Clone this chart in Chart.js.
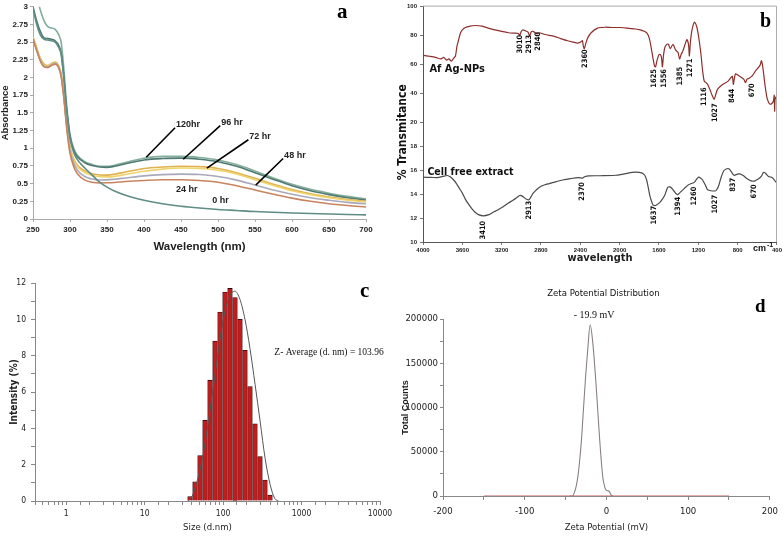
<!DOCTYPE html>
<html>
<head>
<meta charset="utf-8">
<script src="https://cdn.jsdelivr.net/npm/chart.js@4.4.0/dist/chart.umd.min.js"></script>
<style>
  body { margin: 0; background: #fff; width: 784px; height: 536px; position: relative; overflow: hidden; }
  canvas { position: absolute; }
</style>
</head>
<body>
<canvas id="panel-a" width="390" height="262" style="left:0;top:0"></canvas>
<canvas id="panel-b" width="394" height="268" style="left:390px;top:0"></canvas>
<canvas id="panel-c" width="400" height="271" style="left:0;top:265px"></canvas>
<canvas id="panel-d" width="384" height="271" style="left:400px;top:265px"></canvas>
<script>
// ---- a: UV-vis absorbance ----
var uvWl  = [250,255,260,265,270,275,280,285,288,290,292,294,296,300,305,310,320,330,340,350,360,375,400,425,450,475,500,525,550,575,600,625,650,675,700];
var uv120 = [3.35,3.15,2.95,2.8,2.72,2.7,2.68,2.6,2.5,2.32,2.08,1.8,1.55,1.2,1.0,0.9,0.81,0.77,0.745,0.745,0.76,0.8,0.86,0.885,0.885,0.87,0.835,0.77,0.68,0.58,0.49,0.42,0.365,0.32,0.285];
var uv96  = [3.0,2.8,2.65,2.56,2.55,2.54,2.52,2.45,2.35,2.18,1.98,1.72,1.5,1.17,0.97,0.88,0.795,0.755,0.735,0.73,0.745,0.78,0.835,0.855,0.86,0.845,0.81,0.745,0.655,0.56,0.47,0.4,0.345,0.3,0.268];
var uv72  = [2.58,2.42,2.27,2.19,2.17,2.2,2.22,2.16,2.05,1.9,1.72,1.5,1.3,1.02,0.85,0.76,0.68,0.64,0.622,0.62,0.632,0.665,0.715,0.735,0.745,0.74,0.715,0.655,0.575,0.49,0.415,0.355,0.31,0.275,0.25];
var uv72b = [2.56,2.4,2.25,2.17,2.16,2.19,2.21,2.15,2.04,1.89,1.71,1.49,1.29,1.0,0.83,0.74,0.655,0.615,0.597,0.595,0.603,0.63,0.675,0.705,0.72,0.715,0.69,0.635,0.555,0.475,0.4,0.345,0.3,0.265,0.24];
var uv48  = [2.55,2.39,2.24,2.16,2.15,2.18,2.2,2.14,2.03,1.88,1.7,1.47,1.27,0.97,0.79,0.69,0.6,0.565,0.552,0.553,0.562,0.58,0.61,0.628,0.635,0.63,0.6,0.55,0.48,0.41,0.35,0.3,0.265,0.235,0.215];
var uv24  = [2.54,2.38,2.23,2.15,2.14,2.17,2.19,2.13,2.02,1.86,1.68,1.45,1.24,0.93,0.74,0.64,0.55,0.52,0.51,0.512,0.517,0.53,0.545,0.555,0.555,0.545,0.52,0.47,0.41,0.35,0.295,0.25,0.215,0.19,0.17];
var uv0   = [2.98,2.75,2.6,2.54,2.53,2.52,2.5,2.42,2.33,2.16,1.96,1.7,1.48,1.14,0.94,0.84,0.72,0.62,0.52,0.45,0.395,0.335,0.265,0.215,0.18,0.155,0.135,0.12,0.105,0.095,0.085,0.078,0.07,0.063,0.058];
var uvTags = ['120hr', '96 hr', '72 hr', '48 hr', '24 hr', '0 hr'];

// ---- b: FTIR ----
var npWn = [4000,3930,3873,3820,3790,3760,3738,3710,3688,3670,3655,3640,3620,3600,3570,3520,3470,3400,3336,3270,3200,3130,3067,3030,3017,3000,2983,2950,2932,2915,2900,2882,2860,2840,2820,2760,2665,2600,2530,2470,2430,2400,2380,2370,2360,2345,2326,2290,2225,2150,2080,1990,1900,1840,1790,1750,1722,1700,1680,1660,1645,1635,1620,1600,1585,1575,1565,1555,1540,1520,1505,1485,1458,1430,1407,1391,1375,1357,1335,1317,1300,1291,1280,1264,1240,1220,1206,1190,1173,1155,1140,1120,1106,1080,1060,1039,1025,1005,960,900,870,854,844,835,821,780,737,720,705,687,650,620,590,570,559,548,535,520,502,485,469,450,436,428,424,420,410];
var npT  = [66.5,65.8,65.1,64.0,65.0,63.2,64.0,62.5,64.5,66.0,72.6,76.5,81.7,84.0,85.6,86.6,87.0,86.5,85.2,84.0,82.9,82.0,81.7,81.5,80.0,83.0,84.0,83.0,82.5,79.8,82.5,83.0,82.0,81.2,82.0,80.8,79.5,78.0,76.5,75.5,74.9,75.5,76.5,73.0,71.0,74.5,78.3,82.0,85.2,85.8,85.6,85.6,85.0,84.6,84.0,83.0,81.7,78.5,72.0,64.0,59.0,58.5,63.0,67.0,67.0,65.0,58.5,66.0,72.0,74.0,74.2,71.0,74.0,70.0,68.5,64.0,67.0,69.5,74.0,77.2,74.0,66.0,76.0,84.0,89.3,87.0,83.0,76.0,67.0,55.0,48.7,47.5,46.5,42.5,39.0,36.2,39.0,43.0,46.0,48.5,51.0,52.0,46.5,50.0,53.7,52.0,49.9,47.6,50.0,50.5,52.5,55.6,58.0,60.0,62.8,60.0,53.3,45.0,37.3,34.0,32.8,33.5,35.0,39.0,28.0,36.0,38.0];
var cfeWn = [4000,3920,3853,3800,3753,3720,3688,3660,3638,3600,3570,3535,3504,3470,3437,3386,3330,3286,3235,3185,3135,3085,3050,3017,2991,2951,2924,2900,2883,2850,2816,2760,2716,2650,2582,2500,2414,2380,2350,2313,2200,2045,1950,1844,1777,1745,1726,1710,1693,1675,1660,1640,1626,1593,1565,1543,1525,1509,1490,1476,1450,1425,1409,1380,1342,1300,1275,1241,1215,1197,1175,1157,1130,1107,1073,1023,1005,990,965,939,910,889,860,838,800,771,740,704,670,637,610,587,560,536,515,486,460,436,409];
var cfeT  = [15.44,15.42,15.4,15.5,15.58,15.45,15.2,14.9,14.6,14.1,13.6,13.15,12.8,12.5,12.3,12.2,12.3,12.5,12.7,12.95,13.25,13.5,13.7,13.9,13.85,13.6,13.55,13.8,14.05,14.35,14.6,14.8,14.9,15.05,15.2,15.32,15.4,15.35,15.5,15.55,15.56,15.6,15.72,15.86,15.8,15.6,15.2,14.6,13.9,13.4,13.1,13.05,13.1,13.3,13.6,13.9,14.3,14.6,14.62,14.55,14.3,14.05,13.97,14.2,14.5,14.8,14.9,15.0,15.3,15.44,15.35,15.2,14.8,14.4,14.3,14.3,14.5,14.8,15.5,16.0,16.15,16.14,15.85,15.6,15.7,15.7,15.55,15.3,15.15,15.1,15.2,15.3,15.5,15.85,15.75,15.5,15.45,15.3,15.0];
var npPeaks   = ['3010','2913','2840','2360','1625','1556','1385','1271','1116','1027','844','670'];
var npPeakWn  = [3017,2917,2833,2357,1649,1552,1391,1281,1140,1032,854,653];
var cfePeaks  = ['3410','2913','2370','1637','1394','1260','1027','837','670'];
var cfePeakWn = [3386,2924,2380,1653,1407,1240,1032,844,630];

// ---- c: DLS size distribution ----
var dlsSize = [37.84,43.82,50.75,58.77,68.06,78.82,91.28,105.7,122.4,141.8,164.2,190.1,220.2,255.0,295.3,342.0,396.1];
var dlsInt  = [0.24,1.06,2.5,4.45,6.65,8.8,10.4,11.5,11.7,11.2,10.0,8.3,6.3,4.25,2.45,1.15,0.33];
var fitSize = [35.5,41,47.7,55,64,78,90.6,105,122,141,164,190,220,256,296,343,398,454,511];
var fitInt  = [0,0.33,1.25,2.45,4.2,6.8,8.8,10.4,11.3,11.55,11.1,10.0,8.4,6.4,4.4,2.35,0.9,0.15,0];

// ---- d: zeta potential ----
var zetaMv     = [-45,-41.6,-39,-36.7,-34.5,-32.7,-30.5,-28.7,-25.5,-22.6,-19.9,-16.6,-12.5,-8.5,-4.5,-2,-0.4,1.5,3.6,5.7,8];
var zetaCounts = [0,0,4500,12400,25000,40700,64000,89600,134800,168700,193500,172500,123500,67000,21800,10000,6800,6000,4900,1100,0];
var zetaBaseMv = [-150, 150];
var zetaBase   = [0, 0];

var SANS = "'Liberation Sans', Arial, sans-serif";
var NARROW = "'Liberation Sans Narrow', 'DejaVu Sans Condensed', sans-serif";
var SERIF = "'Liberation Serif', 'DejaVu Serif', serif";
Chart.defaults.font.family = SANS;
Chart.defaults.color = '#222';
Chart.defaults.animation = false;
Chart.defaults.responsive = false;
Chart.defaults.plugins.legend.display = false;
Chart.defaults.plugins.tooltip.enabled = false;

function pairs(xs, ys) { return xs.map(function(x, i) { return { x: x, y: ys[i] }; }); }
function fixW(w) { return function(s) { s.width = w; }; }
function fixH(h) { return function(s) { s.height = h; }; }
function text(ctx, s, x, y, font, opts) {
    opts = opts || {};
    ctx.save();
    ctx.translate(x, y);
    if (opts.rot) ctx.rotate(opts.rot);
    ctx.font = font;
    ctx.fillStyle = opts.color || '#111';
    ctx.textAlign = opts.align || 'left';
    ctx.textBaseline = opts.base || 'alphabetic';
    ctx.fillText(s, 0, 0);
    ctx.restore();
}

// ---------- panel a ----------
var uvLines = [
    { data: uv0,   color: '#5f8d85' },
    { data: uv24,  color: '#c8845e' },
    { data: uv48,  color: '#a9a9bb' },
    { data: uv72b, color: '#eed46c' },
    { data: uv72,  color: '#e0b14e' },
    { data: uv96,  color: '#4f7a72' },
    { data: uv120, color: '#85ad9c' }
];
// tag anchors (nm, absorbance) and leader line ends
var uvTagAt = [[442, 1.29], [503, 1.32], [541, 1.12], [588, 0.855], [442, 0.373], [491, 0.211]];
var uvLeadTo = [[403, 0.873], [453, 0.845], [485, 0.718], [551, 0.479]];

new Chart(document.getElementById('panel-a'), {
    type: 'line',
    data: {
        datasets: uvLines.map(function(l) {
            return { data: pairs(uvWl, l.data), borderColor: l.color, borderWidth: 1.6,
                     pointRadius: 0, cubicInterpolationMode: 'monotone' };
        })
    },
    options: {
        layout: { padding: { top: 6, right: 24, left: 0, bottom: 0 } },
        scales: {
            x: {
                type: 'linear', min: 250, max: 700, afterFit: fixH(43),
                ticks: { stepSize: 50, maxRotation: 0, padding: 3, font: { family: SANS, size: 8, weight: 'bold' } },
                grid: { drawOnChartArea: false, tickLength: 3, color: '#aaa' },
                border: { color: '#aaa' },
                title: { display: true, text: 'Wavelength (nm)', padding: { top: 0, bottom: 8 },
                         font: { family: SANS, size: 11.5, weight: 'bold' } }
            },
            y: {
                min: 0, max: 3, afterFit: fixW(33),
                ticks: { stepSize: 0.25, padding: 2, font: { family: SANS, size: 8, weight: 'bold' },
                         callback: function(v) { return String(v); } },
                grid: { drawOnChartArea: false, tickLength: 3, color: '#aaa' },
                border: { color: '#aaa' },
                title: { display: true, text: 'Absorbance', padding: { top: 0, bottom: 0 },
                         font: { family: SANS, size: 9.5, weight: 'bold' } }
            }
        }
    },
    plugins: [{
        id: 'uvTags',
        afterDatasetsDraw: function(chart) {
            var ctx = chart.ctx, sx = chart.scales.x, sy = chart.scales.y;
            ctx.save();
            ctx.strokeStyle = '#000';
            ctx.lineWidth = 1.6;
            uvLeadTo.forEach(function(end, i) {
                ctx.beginPath();
                ctx.moveTo(sx.getPixelForValue(uvTagAt[i][0]), sy.getPixelForValue(uvTagAt[i][1]));
                ctx.lineTo(sx.getPixelForValue(end[0]), sy.getPixelForValue(end[1]));
                ctx.stroke();
            });
            ctx.restore();
            uvTags.forEach(function(t, i) {
                text(ctx, t, sx.getPixelForValue(uvTagAt[i][0]) + 1, sy.getPixelForValue(uvTagAt[i][1]) - 1,
                     'bold 9px ' + SANS, { color: '#222' });
            });
            text(ctx, 'a', 337, 18, 'bold 21px ' + SERIF, { color: '#000' });
        }
    }]
});

// ---------- panel b ----------
var npLabelMid  = [74.2, 74.2, 76.1, 64.2, 50.6, 50.6, 52.1, 57.8, 38.0, 27.0, 38.5, 42.4];
var cfeLabelMid = [11.0, 12.67, 14.25, 12.25, 13.0, 13.86, 13.17, 14.8, 14.25];
var tickFontB = { family: SANS, size: 6, weight: 'bold' };

new Chart(document.getElementById('panel-b'), {
    type: 'line',
    data: {
        datasets: [
            { data: pairs(npWn, npT), yAxisID: 'yTop', borderColor: '#8e2e2b', borderWidth: 1.2, pointRadius: 0, tension: 0.25 },
            { data: pairs(cfeWn, cfeT), yAxisID: 'yBot', borderColor: '#4a4a4a', borderWidth: 1.2, pointRadius: 0, tension: 0.3 }
        ]
    },
    options: {
        layout: { padding: { top: 5, right: 3, left: 0, bottom: 0 } },
        scales: {
            x: {
                type: 'linear', min: 400, max: 4000, reverse: true, afterFit: fixH(26),
                ticks: { stepSize: 400, maxRotation: 0, padding: 2, font: tickFontB,
                         callback: function(v) { return String(v); } },
                grid: { drawOnChartArea: false, tickLength: 3, color: '#777' },
                border: { color: '#555' },
                title: { display: true, text: 'wavelength', padding: { top: 0, bottom: 3.5 },
                         font: { family: NARROW, size: 11, weight: 'bold' } }
            },
            yBot: {
                type: 'linear', position: 'left', stack: 'ftir', stackWeight: 120,
                min: 10, max: 20, afterFit: fixW(33),
                ticks: { stepSize: 2, padding: 3, font: tickFontB,
                         callback: function(v) { return v === 20 ? '' : String(v); } },
                grid: { drawOnChartArea: false, tickLength: 3, color: '#777' },
                border: { color: '#555' }
            },
            yTop: {
                type: 'linear', position: 'left', stack: 'ftir', stackWeight: 117,
                min: 20, max: 100, afterFit: fixW(33),
                ticks: { stepSize: 10, padding: 3, font: tickFontB,
                         callback: function(v) { return String(v); } },
                grid: { drawOnChartArea: false, tickLength: 3, color: '#777' },
                border: { color: '#555' }
            }
        }
    },
    plugins: [{
        id: 'ftirText',
        afterDraw: function(chart) {
            var ctx = chart.ctx, a = chart.chartArea;
            var sx = chart.scales.x, st = chart.scales.yTop, sb = chart.scales.yBot;
            ctx.save();
            ctx.strokeStyle = '#aaa';
            ctx.lineWidth = 1;
            ctx.beginPath();
            ctx.moveTo(a.left, a.top - 0.5);
            ctx.lineTo(a.right - 0.5, a.top - 0.5);
            ctx.lineTo(a.right - 0.5, a.bottom);
            ctx.stroke();
            ctx.restore();
            var pf = 'bold 7.5px ' + NARROW;
            npPeaks.forEach(function(p, i) {
                text(ctx, p, sx.getPixelForValue(npPeakWn[i]), st.getPixelForValue(npLabelMid[i]), pf,
                     { rot: -Math.PI / 2, align: 'center', base: 'middle' });
            });
            cfePeaks.forEach(function(p, i) {
                text(ctx, p, sx.getPixelForValue(cfePeakWn[i]), sb.getPixelForValue(cfeLabelMid[i]), pf,
                     { rot: -Math.PI / 2, align: 'center', base: 'middle' });
            });
            text(ctx, 'Af Ag-NPs', sx.getPixelForValue(3935), st.getPixelForValue(56.9), 'bold 11px ' + NARROW,
                 { base: 'middle' });
            text(ctx, 'Cell free extract', sx.getPixelForValue(3955), sb.getPixelForValue(15.83), 'bold 10.5px ' + NARROW,
                 { base: 'middle' });
            text(ctx, '% Transmitance', 13, (a.top + a.bottom) / 2 + 8, 'bold 12px ' + NARROW,
                 { rot: -Math.PI / 2, align: 'center', base: 'middle' });
            text(ctx, 'cm', 363, 251, 'bold 9px ' + SANS);
            text(ctx, '-1', 377, 247, 'bold 7px ' + SANS);
            text(ctx, 'b', 370, 27, 'bold 20px ' + SERIF, { color: '#000' });
        }
    }]
});

// ---------- panel c ----------
new Chart(document.getElementById('panel-c'), {
    type: 'bar',
    data: {
        datasets: [
            { type: 'line', data: pairs(fitSize, fitInt), borderColor: '#555', borderWidth: 1,
              pointRadius: 0, cubicInterpolationMode: 'monotone' },
            { data: pairs(dlsSize, dlsInt), backgroundColor: '#c41c1c', borderColor: '#2e0808',
              borderWidth: 0.8, barThickness: 4.6 }
        ]
    },
    options: {
        layout: { padding: { top: 18, right: 20, left: 0, bottom: 0 } },
        scales: {
            x: {
                type: 'logarithmic', min: 0.4, max: 10000, offset: false, afterFit: fixH(35),
                ticks: { autoSkip: false, maxRotation: 0, padding: 4, font: { family: NARROW, size: 8.5 },
                         callback: function(v) {
                             var l = Math.log10(v);
                             return Math.abs(l - Math.round(l)) < 1e-9 ? String(Math.round(v)) : '';
                         } },
                grid: { offset: false, drawOnChartArea: false, tickLength: 4, color: '#888' },
                border: { color: '#888' },
                title: { display: true, text: 'Size (d.nm)', padding: { top: 0, bottom: 2.3 },
                         font: { family: NARROW, size: 9.5 } }
            },
            y: {
                min: 0, max: 12, afterFit: fixW(35),
                ticks: { stepSize: 1, autoSkip: false, padding: 5, font: { family: NARROW, size: 8.5 },
                         callback: function(v) { return v % 2 === 0 ? String(v) : ''; } },
                grid: { drawOnChartArea: false, tickLength: 4, color: '#888' },
                border: { color: '#888' },
                title: { display: true, text: 'Intensity (%)', padding: { top: 8, bottom: 0 },
                         font: { family: NARROW, size: 10, weight: 'bold' } }
            }
        }
    },
    plugins: [{
        id: 'dlsText',
        afterDraw: function(chart) {
            var ctx = chart.ctx, sx = chart.scales.x, sy = chart.scales.y;
            text(ctx, 'Z- Average (d. nm) = 103.96', sx.getPixelForValue(450), sy.getPixelForValue(8.15),
                 '9.5px ' + SERIF, { base: 'middle' });
            text(ctx, 'c', 360, 32, 'bold 21px ' + SERIF, { color: '#000' });
        }
    }]
});

// ---------- panel d ----------
new Chart(document.getElementById('panel-d'), {
    type: 'line',
    data: {
        datasets: [
            { data: pairs(zetaBaseMv, zetaBase), borderColor: '#c46060', borderWidth: 1.2, pointRadius: 0 },
            { data: pairs(zetaMv, zetaCounts), borderColor: '#8a8080', borderWidth: 1.1, pointRadius: 0,
              cubicInterpolationMode: 'monotone' }
        ]
    },
    options: {
        layout: { padding: { top: 54, right: 11, left: 0, bottom: 0 } },
        scales: {
            x: {
                type: 'linear', min: -200, max: 200, afterFit: fixH(40),
                ticks: { stepSize: 50, autoSkip: false, maxRotation: 0, padding: 6, font: { family: NARROW, size: 9.5 },
                         callback: function(v) { return v % 100 === 0 ? String(v) : ''; } },
                grid: { drawOnChartArea: false, tickLength: 4, color: '#888' },
                border: { color: '#888' },
                title: { display: true, text: 'Zeta Potential (mV)', padding: { top: 0, bottom: 2.3 },
                         font: { family: NARROW, size: 9.5 } }
            },
            y: {
                min: 0, max: 200000, afterFit: fixW(43),
                ticks: { stepSize: 25000, autoSkip: false, padding: 2, font: { family: NARROW, size: 9.5 },
                         callback: function(v) { return v % 50000 === 0 ? String(v) : ''; } },
                grid: { drawOnChartArea: false, tickLength: 3, color: '#888' },
                border: { color: '#888' },
                title: { display: true, text: 'Total Counts', padding: { top: 0, bottom: 0 },
                         font: { family: SANS, size: 9, weight: 'bold' } }
            }
        }
    },
    plugins: [{
        id: 'zetaText',
        afterDraw: function(chart) {
            var ctx = chart.ctx, a = chart.chartArea, sx = chart.scales.x, sy = chart.scales.y;
            text(ctx, 'Zeta Potential Distribution', (a.left + a.right) / 2 - 3, a.top - 25,
                 '9.5px ' + NARROW, { align: 'center', base: 'middle' });
            text(ctx, '- 19.9 mV', sx.getPixelForValue(-19.9) + 4, sy.getPixelForValue(193500) - 9,
                 '10px ' + SERIF, { align: 'center', base: 'middle' });
            text(ctx, 'd', 355, 47, 'bold 19px ' + SERIF, { color: '#000' });
        }
    }]
});
</script>
</body>
</html>
